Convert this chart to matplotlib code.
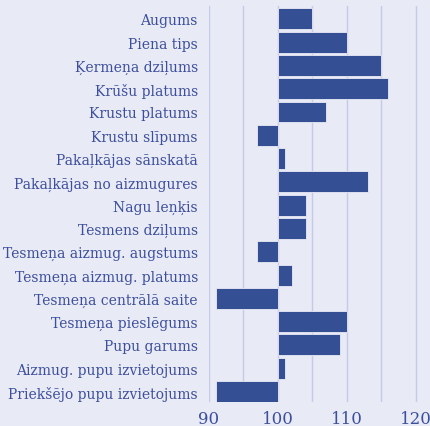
import matplotlib
matplotlib.use("Agg")
import matplotlib.pyplot as plt
import numpy as np

traits = [
    "Augums",
    "Piena tips",
    "Ķermeņa dziļums",
    "Krūšu platums",
    "Krustu platums",
    "Krustu slīpums",
    "Pakaļkājas sānskatā",
    "Pakaļkājas no aizmugures",
    "Nagu leņķis",
    "Tesmens dziļums",
    "Tesmeņa aizmug. augstums",
    "Tesmeņa aizmug. platums",
    "Tesmeņa centrālā saite",
    "Tesmeņa pieslēgums",
    "Pupu garums",
    "Aizmug. pupu izvietojums",
    "Priekšējo pupu izvietojums",
]
scores = [105, 110, 115, 116, 107, 97, 101, 113, 104, 104, 97, 102, 91, 110, 109, 101, 91]
baseline = 100

bg = "#e8eaf6"
bar_color = "#344f93"
text_color = "#3d4f9c"
grid_color = "#c5cae9"

plt.rcParams["font.family"] = ["DejaVu Serif"]

fig = plt.figure(figsize=(4.31, 4.27), dpi=100)
fig.patch.set_facecolor(bg)
ax = fig.add_axes([209 / 431, 1 - 403 / 427, 1 - 209 / 431, 396 / 427])
ax.set_facecolor(bg)

y = np.arange(len(traits))
widths = np.array(scores) - baseline
ax.barh(y, widths, left=baseline, height=0.9, color=bar_color,
        edgecolor=bg, linewidth=0.6, zorder=3)

ax.set_yticks(y)
ax.set_yticklabels(traits, fontsize=10, color=text_color)
ax.set_ylim(len(traits) - 0.55, -0.55)

ax.set_xlim(90, 122.2)
ax.set_xticks([90, 95, 100, 105, 110, 115, 120])
ax.set_xticklabels(["90", "", "100", "", "110", "", "120"], fontsize=12, color=text_color)
ax.grid(axis="x", color=grid_color, linewidth=1, zorder=0)
ax.tick_params(axis="both", length=0)
ax.tick_params(axis="y", pad=8)
ax.tick_params(axis="x", pad=6)
for spine in ax.spines.values():
    spine.set_visible(False)

fig.savefig("out.png", dpi=100, facecolor=bg)
